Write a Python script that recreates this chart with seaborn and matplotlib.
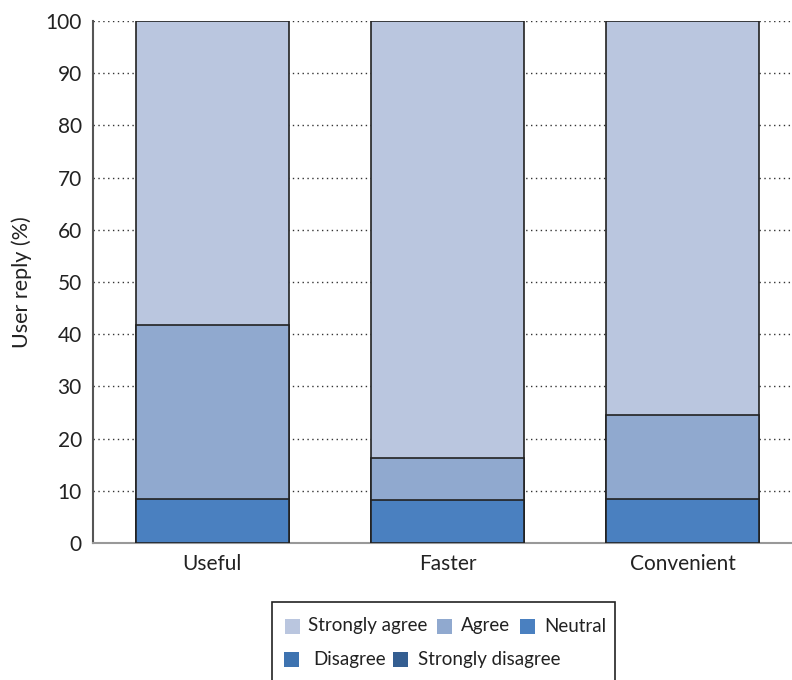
import matplotlib
matplotlib.use("Agg")
import matplotlib.pyplot as plt
import seaborn as sns
import pandas as pd
import numpy as np
from matplotlib.patches import Rectangle

categories = ["Useful", "Faster", "Convenient"]
strongly_disagree = [0.0, 0.0, 0.0]
disagree = [0.0, 0.0, 0.0]
neutral = [8.4, 8.3, 8.5]
agree = [33.3, 8.0, 16.0]
strongly_agree = [58.3, 83.7, 75.5]

series_names = ["Strongly agree", "Agree", "Neutral", "Disagree", "Strongly disagree"]
colors = {"Strongly agree": "#bac6df", "Agree": "#90a9cf", "Neutral": "#4a80c0",
          "Disagree": "#3e73b0", "Strongly disagree": "#345e91"}

sns.set_theme(style="white")
plt.rcParams["font.family"] = ["Lato", "DejaVu Sans"]

W, H = 792, 680
fig = plt.figure(figsize=(W/100, H/100), dpi=100)
ax = fig.add_axes([93/W, 1-543/H, 1-93/W, (543-21)/H])

# stacked cumulative values, bottom-up order
stack = [("Strongly disagree", strongly_disagree), ("Disagree", disagree),
         ("Neutral", neutral), ("Agree", agree), ("Strongly agree", strongly_agree)]
cum = np.zeros(len(categories))
cums = []
for name, vals in stack:
    cum = cum + np.array(vals)
    cums.append((name, cum.copy()))

for name, c in reversed(cums):
    if np.all(c == 0):
        continue
    df = pd.DataFrame({"cat": categories, "val": c})
    sns.barplot(data=df, x="cat", y="val", color=colors[name], width=0.65,
                edgecolor="#222222", linewidth=1.2, ax=ax, saturation=1, zorder=3)

ax.set_ylim(0, 100)
ax.set_xlim(-0.508, 2.466)
ax.set_yticks(range(0, 101, 10))
ax.yaxis.grid(True, linestyle=(0, (1, 2.5)), color="#333333", linewidth=1.0, zorder=0)
ax.set_axisbelow(True)
ax.set_xlabel("")
ax.set_ylabel("User reply (%)", fontsize=15.5, color="#222222", labelpad=10)
ax.tick_params(axis="both", labelsize=15, colors="#222222", length=0, pad=8)
for s in ["top", "right"]:
    ax.spines[s].set_visible(False)
ax.spines["left"].set_color("#555555")
ax.spines["left"].set_linewidth(1.5)
ax.spines["bottom"].set_color("#999999")
ax.spines["bottom"].set_linewidth(1.5)

# legend laid out in rows like the reference
def fx(px):
    return px / W

def fy(py):
    return 1 - py / H

fig.patches.append(Rectangle((fx(272), fy(690)), fx(615) - fx(272), fy(602) - fy(690),
                             transform=fig.transFigure, facecolor="white",
                             edgecolor="#222222", linewidth=1.2))
legend_items = [("Strongly agree", 285, 308, 626), ("Agree", 437, 461, 626),
                ("Neutral", 520, 544, 626), ("Disagree", 284, 313, 659),
                ("Strongly disagree", 393, 418, 659)]
for name, hx, tx, cy in legend_items:
    fig.patches.append(Rectangle((fx(hx), fy(cy + 7.5)), 15/W, 15/H,
                                 transform=fig.transFigure, facecolor=colors[name],
                                 edgecolor="none"))
    fig.text(fx(tx), fy(cy), name, fontsize=13.5, color="#222222", va="center", ha="left")

fig.savefig("out.png", dpi=100)
